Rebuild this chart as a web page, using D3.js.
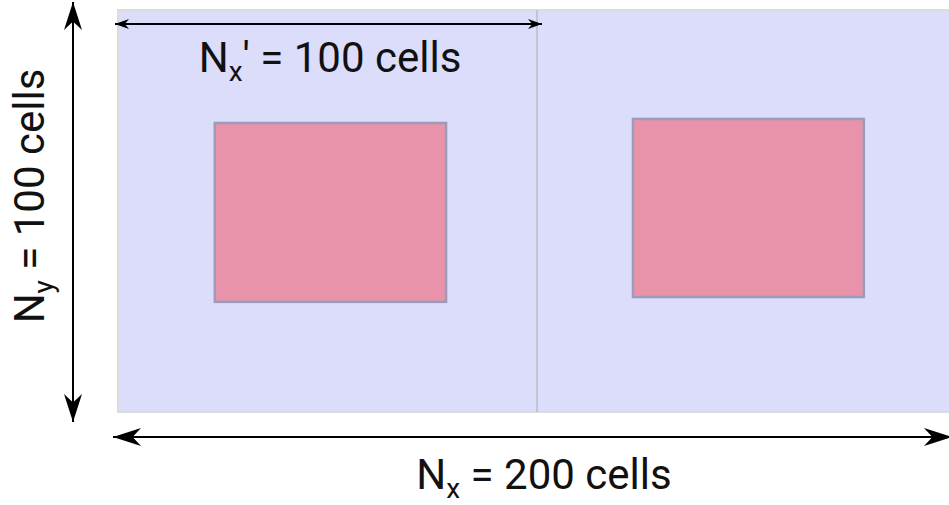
<!DOCTYPE html>
<html><head><meta charset="utf-8">
<script src="https://cdn.jsdelivr.net/npm/d3@7"></script>
<style>body{margin:0;background:#fff;}svg{display:block;font-family:Roboto, "Noto Sans", sans-serif;}</style>
</head><body>
<svg id="c" width="949" height="505"></svg>
<script>
// Grid size in cells
const NX = 200, NY = 100, NXsub = 100;
// Obstacles [x0, x1, y0, y1] in cell units
const obstacles = [[23.1, 78.3, 28.1, 72.6], [122.9, 178.0, 27.1, 71.4]];
const labels = {top: ["N", "x", "' = 100 cells"], left: ["N", "y", " = 100 cells"], bottom: ["N", "x", " = 200 cells"]};

const svg = d3.select("#c");
const x = d3.scaleLinear().domain([0, NX]).range([118, 956]);
const y = d3.scaleLinear().domain([0, NY]).range([10, 412]);

const defs = svg.append("defs");
function marker(id, len, hw) {
  defs.append("marker").attr("id", id).attr("markerUnits", "userSpaceOnUse")
    .attr("viewBox", `0 ${-hw} ${len} ${2*hw}`).attr("refX", len).attr("refY", 0)
    .attr("markerWidth", len).attr("markerHeight", 2*hw).attr("orient", "auto-start-reverse")
    .append("path").attr("d", `M0,${-hw} L${len},0 L0,${hw} L${len*0.3},0 Z`).attr("fill", "#000");
}
marker("sm", 14, 5);
marker("lg", 28, 9);

// domain
svg.append("rect").attr("x", x(0)).attr("y", y(0)).attr("width", x(NX) - x(0)).attr("height", y(NY) - y(0))
  .attr("fill", "#dcdcfb").attr("stroke", "#dcdcdc").attr("stroke-width", 2);
// divider
svg.append("line").attr("x1", x(NXsub)).attr("x2", x(NXsub)).attr("y1", y(0)).attr("y2", y(NY))
  .attr("stroke", "#bdbdc4").attr("stroke-width", 1.5);
// obstacles
svg.selectAll("rect.ob").data(obstacles).join("rect").attr("class", "ob")
  .attr("x", d => x(d[0])).attr("y", d => y(d[2]))
  .attr("width", d => x(d[1]) - x(d[0])).attr("height", d => y(d[3]) - y(d[2]))
  .attr("fill", "#e893aa").attr("stroke", "#9c9cba").attr("stroke-width", 2.5);

// arrows
svg.append("line").attr("x1", x(0) - 3).attr("x2", x(NXsub) + 5).attr("y1", 24).attr("y2", 24)
  .attr("stroke", "#000").attr("stroke-width", 2).attr("marker-start", "url(#sm)").attr("marker-end", "url(#sm)");
svg.append("line").attr("x1", 73).attr("x2", 73).attr("y1", 2).attr("y2", 422)
  .attr("stroke", "#000").attr("stroke-width", 2).attr("marker-start", "url(#lg)").attr("marker-end", "url(#lg)");
svg.append("line").attr("x1", 113).attr("x2", 952).attr("y1", 437).attr("y2", 437)
  .attr("stroke", "#000").attr("stroke-width", 2).attr("marker-start", "url(#lg)").attr("marker-end", "url(#lg)");

function label(g, parts) {
  const t = g.append("text").attr("font-size", 42).attr("fill", "#111").attr("text-anchor", "middle");
  t.append("tspan").text(parts[0]);
  t.append("tspan").attr("font-size", 28).attr("dy", 9).text(parts[1]);
  t.append("tspan").attr("dy", -9).text(parts[2]);
  return t;
}
label(svg.append("g").attr("transform", "translate(330,72)"), labels.top);
label(svg.append("g").attr("transform", "translate(544,489)"), labels.bottom);
label(svg.append("g").attr("transform", "translate(44,196) rotate(-90)"), labels.left);
</script>
</body></html>
